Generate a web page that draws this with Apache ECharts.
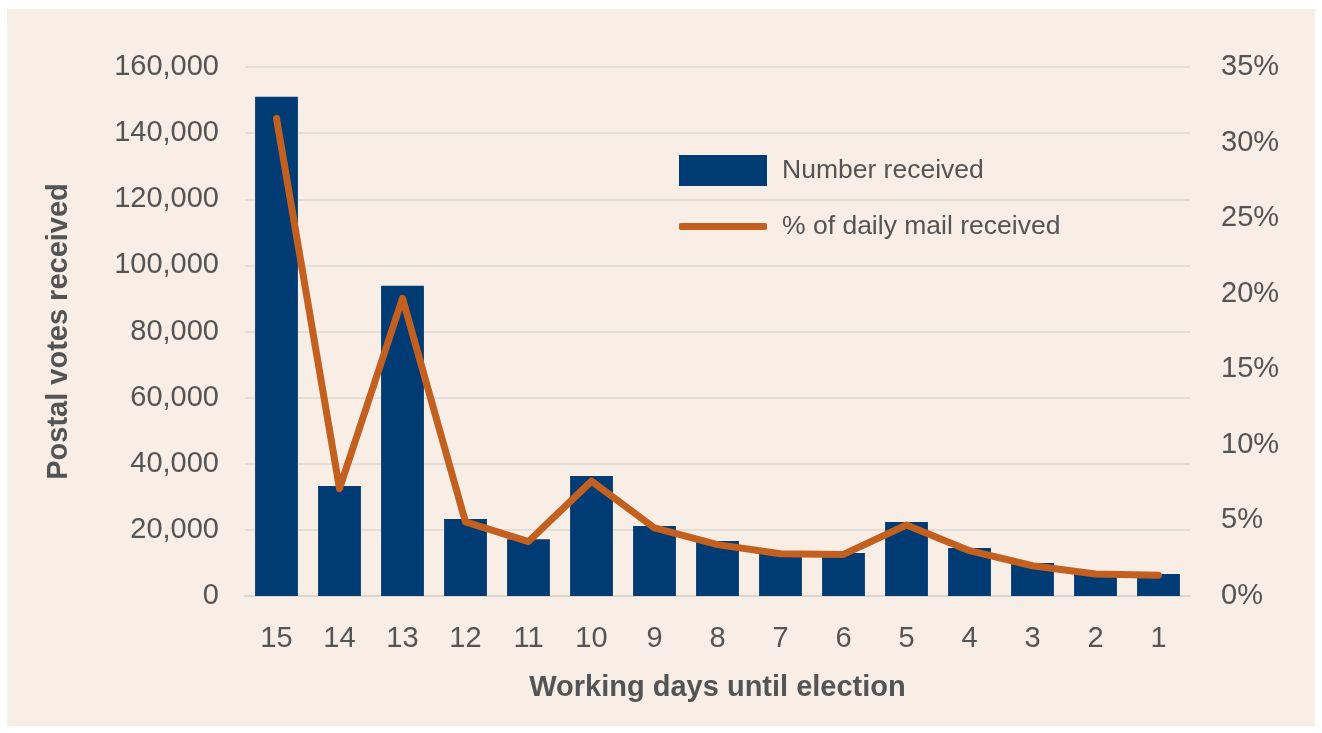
<!DOCTYPE html>
<html>
<head>
<meta charset="utf-8">
<script src="https://cdn.jsdelivr.net/npm/echarts@6/dist/echarts.min.js"></script>
<style>
  html, body { margin: 0; padding: 0; background: #ffffff; width: 1322px; height: 733px; overflow: hidden; }
  #chart { position: absolute; left: 7px; top: 9px; width: 1308px; height: 717px; }
</style>
</head>
<body>
<div id="chart"></div>
<script>
const categories = ['15', '14', '13', '12', '11', '10', '9', '8', '7', '6', '5', '4', '3', '2', '1'];
const votesReceived = [151000, 33300, 93800, 23300, 17200, 36300, 21200, 16600, 13500, 13000, 22400, 14500, 10000, 7000, 6650];
const pctDailyMail = [31.6, 7.1, 19.7, 4.9, 3.6, 7.6, 4.5, 3.4, 2.8, 2.75, 4.7, 3.0, 2.0, 1.45, 1.37];
const leftTicks = { min: 0, max: 160000, interval: 20000 };
const rightTicks = { min: 0, max: 35, interval: 5 };

const FONT = '"Liberation Sans", Arial, sans-serif';
const TXT = '#545454';
const chart = echarts.init(document.getElementById('chart'), null, { renderer: 'canvas' });
chart.setOption({
  backgroundColor: '#F9EEE6',
  animation: false,
  textStyle: { fontFamily: FONT },
  grid: { left: 238, top: 58, right: 125, bottom: 130, containLabel: false },
  legend: [
    {
      left: 667, top: 141,
      itemWidth: 88, itemHeight: 31,
      textStyle: { fontSize: 26.5, color: TXT, fontFamily: FONT, padding: [0, 0, 0, 10] },
      data: [{ name: 'Number received', icon: 'rect' }]
    },
    {
      left: 667, top: 199,
      itemWidth: 88, itemHeight: 7,
      icon: 'roundRect',
      textStyle: { fontSize: 26.5, color: TXT, fontFamily: FONT, padding: [0, 0, 0, 10] },
      data: [{ name: '% of daily mail received', icon: 'roundRect' }]
    }
  ],
  xAxis: {
    type: 'category',
    data: categories,
    axisTick: { show: false },
    axisLine: { lineStyle: { color: '#DAD6D2', width: 2 } },
    axisLabel: { fontSize: 29, color: TXT, margin: 28, fontFamily: FONT },
    name: 'Working days until election',
    nameLocation: 'middle',
    nameGap: 77,
    nameTextStyle: { fontSize: 29, fontWeight: 'bold', color: TXT, fontFamily: FONT }
  },
  yAxis: [
    {
      type: 'value',
      min: leftTicks.min, max: leftTicks.max, interval: leftTicks.interval,
      axisLine: { show: false }, axisTick: { show: false },
      splitLine: { lineStyle: { color: '#DDD8D4', width: 1.5 } },
      axisLabel: { fontSize: 29, color: TXT, margin: 26, fontFamily: FONT,
        formatter: v => v.toLocaleString('en-US') },
      name: 'Postal votes received',
      nameLocation: 'middle',
      nameGap: 172,
      nameRotate: 90,
      nameTextStyle: { fontSize: 29, fontWeight: 'bold', color: TXT, fontFamily: FONT }
    },
    {
      type: 'value',
      min: rightTicks.min, max: rightTicks.max, interval: rightTicks.interval,
      axisLine: { show: false }, axisTick: { show: false },
      splitLine: { show: false },
      axisLabel: { fontSize: 29, color: TXT, margin: 31, fontFamily: FONT, formatter: '{value}%' }
    }
  ],
  series: [
    {
      name: 'Number received',
      type: 'bar',
      data: votesReceived,
      barWidth: '68%',
      itemStyle: { color: '#003B73' }
    },
    {
      name: '% of daily mail received',
      type: 'line',
      yAxisIndex: 1,
      data: pctDailyMail,
      symbol: 'none',
      lineStyle: { color: '#C4601F', width: 7, cap: 'round', join: 'round' },
      itemStyle: { color: '#C4601F' }
    }
  ]
});
</script>
</body>
</html>
